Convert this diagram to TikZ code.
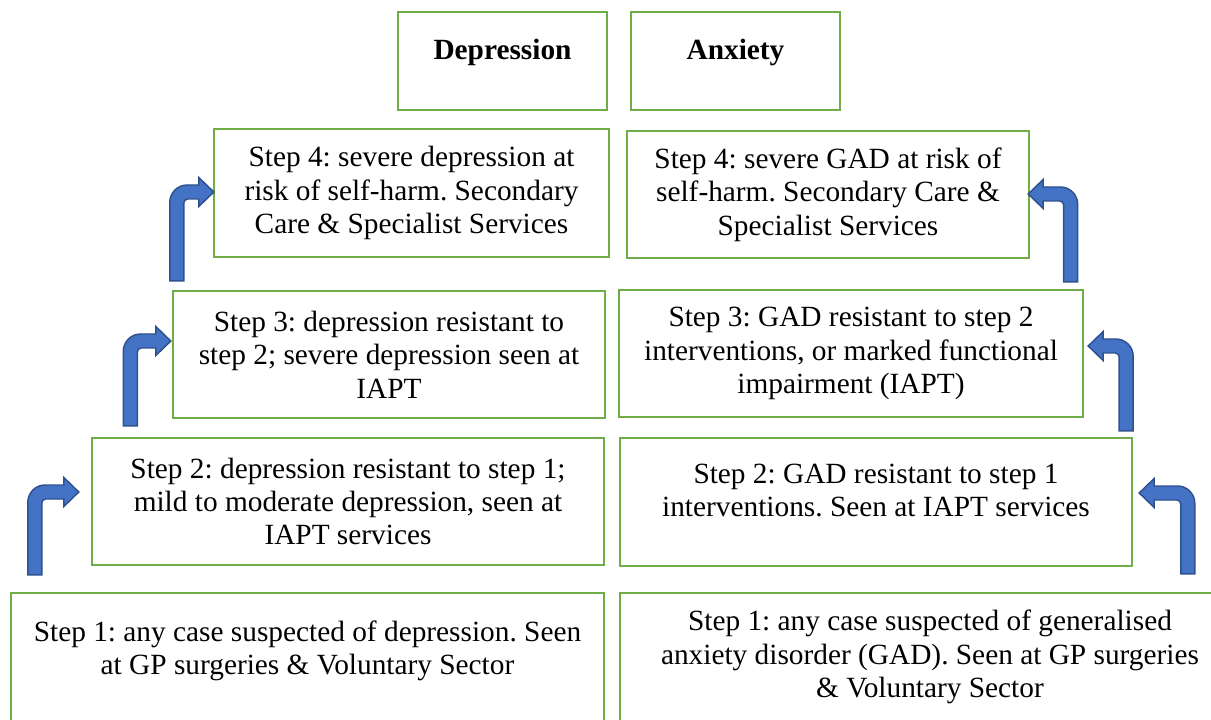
\documentclass[tikz,border=0pt]{standalone}
\usepackage{fontspec}
\setmainfont{Liberation Serif}
\usetikzlibrary{calc}
\frenchspacing
\definecolor{boxgreen}{HTML}{70AD47}
\definecolor{arrowblue}{HTML}{4472C4}
\definecolor{arrowedge}{HTML}{2F528F}
\tikzstyle{stepbox} = [
    rectangle,
    draw=boxgreen,
    line width=1.8pt,
    inner sep=0pt,
    align=center,
    font=\fontsize{22}{25}\selectfont
]
\tikzstyle{headbox} = [
    stepbox,
    minimum width=156.75pt,
    minimum height=73.5pt,
    text depth=17pt,
    font=\fontsize{22}{25}\selectfont\bfseries
]
\tikzstyle{bentarrowstyle} = [
    fill=arrowblue,
    draw=arrowedge,
    line width=1.1pt,
    line join=miter
]
\newcommand{\bentarrow}[3]{%
  \filldraw[bentarrowstyle] let \p1=#1, \p2=#2 in
    ({\x1-(#3)*5.25pt},\y1)
    -- ({\x1-(#3)*5.25pt},{\y2+5.25pt-13pt})
    arc[start angle={90+(#3)*90}, end angle=90, radius=13pt]
    -- ({\x2-(#3)*11.25pt},{\y2+5.25pt})
    -- ({\x2-(#3)*11.25pt},{\y2+10.9pt})
    -- (\x2,\y2)
    -- ({\x2-(#3)*11.25pt},{\y2-10.9pt})
    -- ({\x2-(#3)*11.25pt},{\y2-5.25pt})
    -- ({\x1+(#3)*8.25pt},{\y2-5.25pt})
    arc[start angle=90, end angle={90+(#3)*90}, radius=3pt]
    -- ({\x1+(#3)*5.25pt},\y1) -- cycle;}

\begin{document}
\begin{tikzpicture}[x=0.75pt, y=-0.75pt]

\useasboundingbox (0,0) rectangle (1211,720);
\clip (0,0) rectangle (1211,720);

\node (dephead) [headbox] at (502.5,61) {Depression};
\node (anxhead) [headbox] at (735.5,61) {Anxiety};

\node (dep4) [stepbox, minimum width=296.25pt, minimum height=96pt] at (411.5,193)
{Step 4: severe depression at\\ risk of self-harm. Secondary\\ Care \& Specialist Services};
\node (anx4) [stepbox, minimum width=301.5pt, minimum height=95.25pt] at (828,194.5)
{Step 4: severe GAD at risk of\\ self-harm. Secondary Care \&\\ Specialist Services};

\node (dep3) [stepbox, minimum width=324pt, minimum height=95.25pt] at (389,354.5)
{Step 3: depression resistant to\\ step 2; severe depression seen at\\ IAPT};
\node (anx3) [stepbox, minimum width=348pt, minimum height=95.25pt] at (851,353.5)
{Step 3: GAD resistant to step 2\\ interventions, or marked functional\\ impairment (IAPT)};

\node (dep2) [stepbox, minimum width=384pt, minimum height=95.25pt] at (348,501.5)
{Step 2: depression resistant to step 1;\\ mild to moderate depression, seen at\\ IAPT services};
\node (anx2) [stepbox, minimum width=384pt, minimum height=96pt, text depth=18pt] at (876,502)
{Step 2: GAD resistant to step 1\\ interventions. Seen at IAPT services};

\node (dep1) [stepbox, minimum width=444.75pt, minimum height=96pt, text depth=14pt] at (307.5,657)
{Step 1: any case suspected of depression. Seen\\ at GP surgeries \& Voluntary Sector};
\node (anx1) [stepbox, minimum width=465pt, minimum height=96pt] at (930,657)
{Step 1: any case suspected of generalised\\ anxiety disorder (GAD). Seen at GP surgeries\\ \& Voluntary Sector};

\bentarrow{($(dep1.north west)+(25,-17)$)}{($(dep2.west)+(-12,-9.5)$)}{1}
\bentarrow{($(dep2.north west)+(39.5,-11)$)}{($(dep3.west)+(-1,-13.5)$)}{1}
\bentarrow{($(dep3.north west)+(5,-9)$)}{($(dep4.west)+(1,-1)$)}{1}

\bentarrow{($(anx1.north west)+(569,-18)$)}{($(anx2.east)+(6,-9)$)}{-1}
\bentarrow{($(anx2.north east)+(-7,-6)$)}{($(anx3.east)+(4,-7.5)$)}{-1}
\bentarrow{($(anx3.north east)+(-13.5,-7)$)}{($(anx4.east)+(-2,-0.5)$)}{-1}

\end{tikzpicture}
\end{document}
